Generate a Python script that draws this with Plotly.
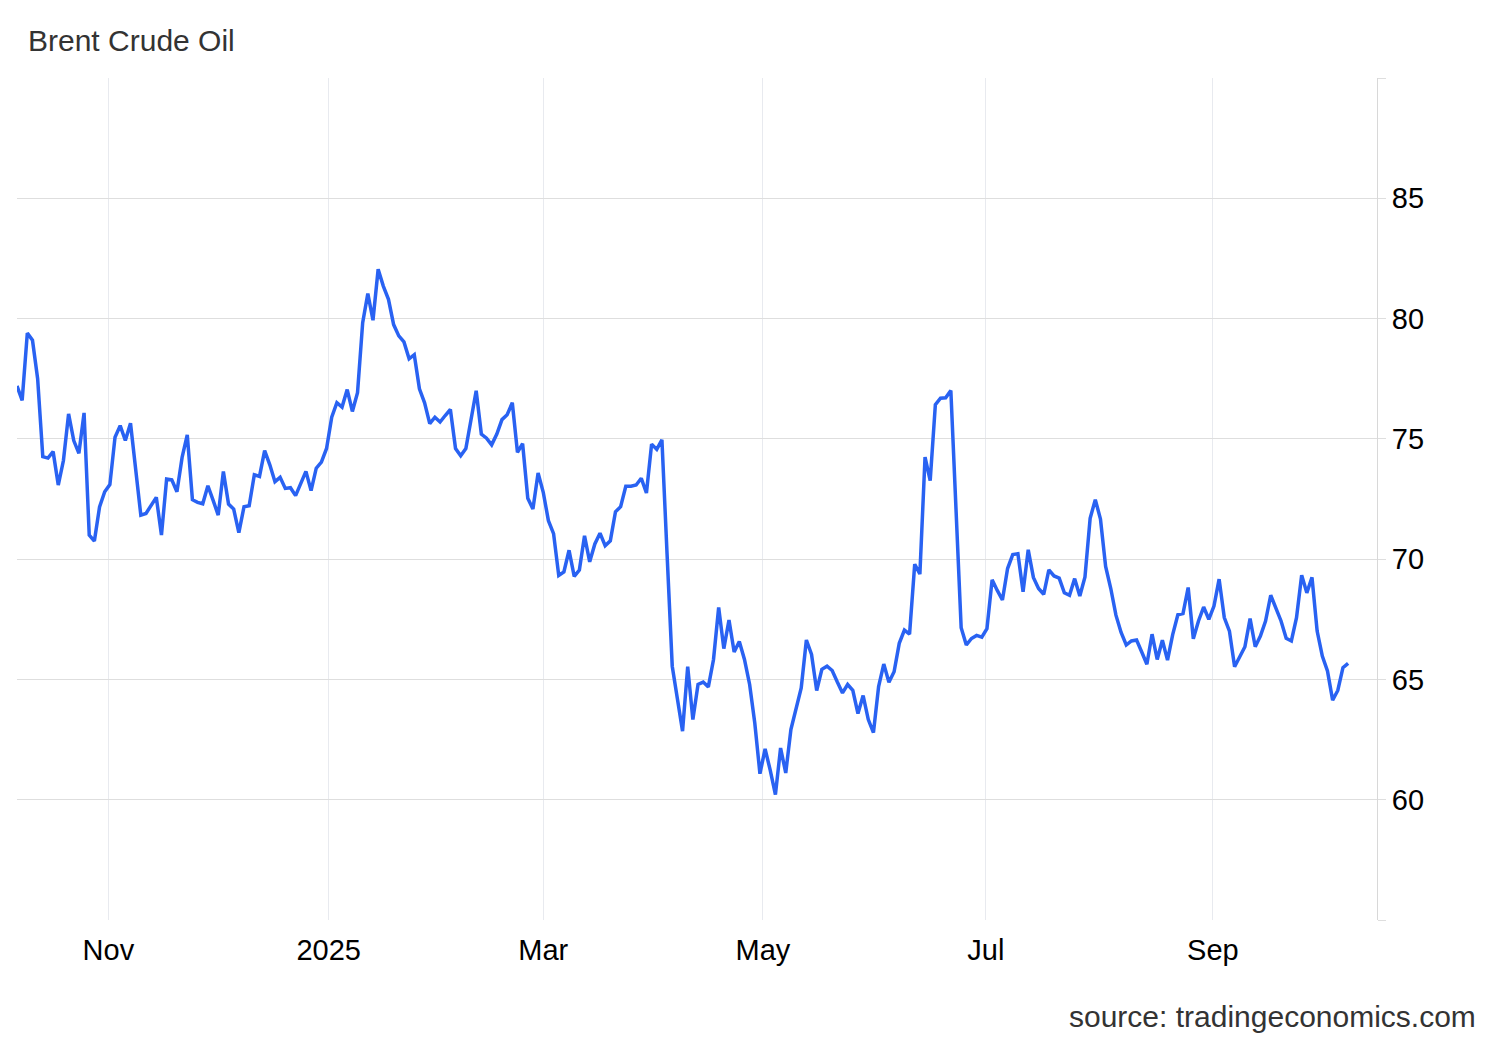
import pandas as pd
import plotly.graph_objects as go

# ---- data (Brent crude, daily closes) ----
oct_2024 = [77.2, 76.6, 79.4, 79.1, 77.5, 74.26, 74.2, 74.47, 73.08, 74.1,
            76.04, 74.93, 74.4, 76.08, 71.0, 70.75, 72.17, 72.8]
nov_2024 = [73.1, 75.07, 75.55, 74.93, 75.65, 73.8, 71.83, 71.9, 72.25, 72.57,
            71.0, 73.33, 73.3, 72.8, 74.23, 75.17, 72.47, 72.36, 72.3, 73.05, 72.45]
dec_2024 = [71.83, 73.64, 72.29, 72.08, 71.1, 72.18, 72.22, 73.51, 73.44, 74.51,
            73.92, 73.22, 73.4, 72.94, 72.97, 72.64, 73.19, 73.65, 72.85, 73.78,
            74.03, 74.6]
jan_2025 = [75.9, 76.5, 76.32, 77.05, 76.14, 76.92, 79.83, 81.04, 79.93, 82.05,
            81.35, 80.8, 79.75, 79.28, 79.03, 78.33, 78.5, 77.08, 76.5, 75.63,
            75.9, 75.7]
feb_2025 = [75.97, 76.22, 74.6, 74.3, 74.6, 75.76, 77.0, 75.2, 75.03, 74.75,
            75.2, 75.8, 76.0, 76.5, 74.44, 74.8, 72.53, 72.08, 73.58, 72.78]
mar_2025 = [71.6, 71.06, 69.32, 69.47, 70.37, 69.28, 69.55, 70.97, 69.89, 70.63,
            71.08, 70.56, 70.76, 71.97, 72.18, 73.03, 73.03, 73.08, 73.36, 72.75,
            74.78]
apr_2025 = [74.56, 74.96, 70.2, 65.55, 64.2, 62.85, 65.53, 63.33, 64.79, 64.89,
            64.69, 65.83, 67.99, 66.28, 67.47, 66.14, 66.58, 65.83, 64.79, 63.19,
            61.08]
may_2025 = [62.11, 61.22, 60.21, 62.15, 61.11, 62.92, 63.75, 64.65, 66.64, 66.04,
            64.54, 65.42, 65.55, 65.37, 64.89, 64.44, 64.79, 64.55, 63.58, 64.33,
            63.33, 62.79]
jun_2025 = [64.7, 65.64, 64.88, 65.32, 66.5, 67.05, 66.88, 69.79, 69.38, 74.24,
            73.26, 76.42, 76.69, 76.71, 77.01, 71.9, 67.15, 66.43, 66.7, 66.83,
            66.76]
jul_2025 = [67.11, 69.14, 68.7, 68.3, 69.61, 70.19, 70.22, 68.64, 70.39, 69.24,
            68.78, 68.54, 69.55, 69.3, 69.21, 68.6, 68.5, 69.19, 68.47, 69.26,
            71.7, 72.47, 71.67]
aug_2025 = [69.7, 68.78, 67.67, 66.95, 66.43, 66.6, 66.64, 66.14, 65.63, 66.88,
            65.83, 66.63, 65.8, 66.86, 67.69, 67.74, 68.82, 66.69, 67.43, 68.01,
            67.5]
sep_2025 = [68.05, 69.17, 67.57, 67.01, 65.53, 65.97, 66.36, 67.53, 66.36, 66.8,
            67.43, 68.5, 67.99, 67.43, 66.71, 66.6, 67.57, 69.33, 68.6, 69.24,
            67.01, 65.97]
oct_2025 = [65.35, 64.14, 64.54, 65.49, 65.67]

holidays = ["2025-01-01", "2025-04-18"]

tick_positions = ["2024-10-31 17:00", "2024-12-31 10:00", "2025-02-28 00:00",
                  "2025-04-30 14:00", "2025-06-30 19:00", "2025-08-29 19:00"]
tick_labels = ["Nov", "2025", "Mar", "May", "Jul", "Sep"]

y_ticks = [55, 60, 65, 70, 75, 80, 85, 90]
y_labels = ["", "60", "65", "70", "75", "80", "85", ""]

values = (oct_2024 + nov_2024 + dec_2024 + jan_2025 + feb_2025 + mar_2025 +
          apr_2025 + may_2025 + jun_2025 + jul_2025 + aug_2025 + sep_2025 + oct_2025)
dates = pd.bdate_range("2024-10-08", "2025-10-07")
dates = dates[~dates.isin(pd.to_datetime(holidays))]
assert len(dates) == len(values), (len(dates), len(values))

FONT = "Arial, Liberation Sans, sans-serif"
LINE = "#2962f2"

# the page body adds an 8px offset, so the figure is 8px smaller
W, H = 1492, 1032

fig = go.Figure()
fig.add_trace(go.Scatter(
    x=dates, y=values, mode="lines",
    line=dict(color=LINE, width=3.5),
    name="Brent Crude Oil",
    hovertemplate="%{x|%b %d, %Y}: %{y:.2f}<extra></extra>",
))

fig.update_layout(
    width=W, height=H,
    margin=dict(l=9, r=123, t=70, b=120),
    paper_bgcolor="white", plot_bgcolor="white",
    showlegend=False,
    font=dict(family=FONT, size=29, color="#000000"),
    title=dict(text="Brent Crude Oil", x=20 / W, xanchor="left",
               xref="container", y=1 - 32 / H, yanchor="middle",
               yref="container", font=dict(family=FONT, size=30, color="#333333")),
    xaxis=dict(
        type="date",
        range=["2024-10-08", "2025-10-14 14:24"],
        rangebreaks=[dict(bounds=["sat", "mon"]), dict(values=holidays)],
        tickmode="array", tickvals=tick_positions, ticktext=tick_labels,
        showgrid=True, gridcolor="#e8eaef", gridwidth=1,
        zeroline=False, showline=False, ticks="",
        tickfont=dict(family=FONT, size=29, color="#000000"),
        ticklabelstandoff=10,
    ),
    yaxis=dict(
        side="right", range=[55, 90],
        tickmode="array", tickvals=y_ticks, ticktext=y_labels,
        showgrid=True, gridcolor="#dedede", gridwidth=1,
        zeroline=False,
        showline=True, linecolor="#d8d8d8", linewidth=1,
        ticks="outside", ticklen=8, tickcolor="#dedede",
        tickfont=dict(family=FONT, size=29, color="#000000"),
    ),
)

fig.add_annotation(
    text="source: tradingeconomics.com", xref="paper", yref="paper",
    x=(1470 - 9) / 1360, xanchor="right", y=(912 - 1008) / 842, yanchor="middle",
    showarrow=False, font=dict(family=FONT, size=30, color="#333333"),
)

fig.write_html("out.html")
